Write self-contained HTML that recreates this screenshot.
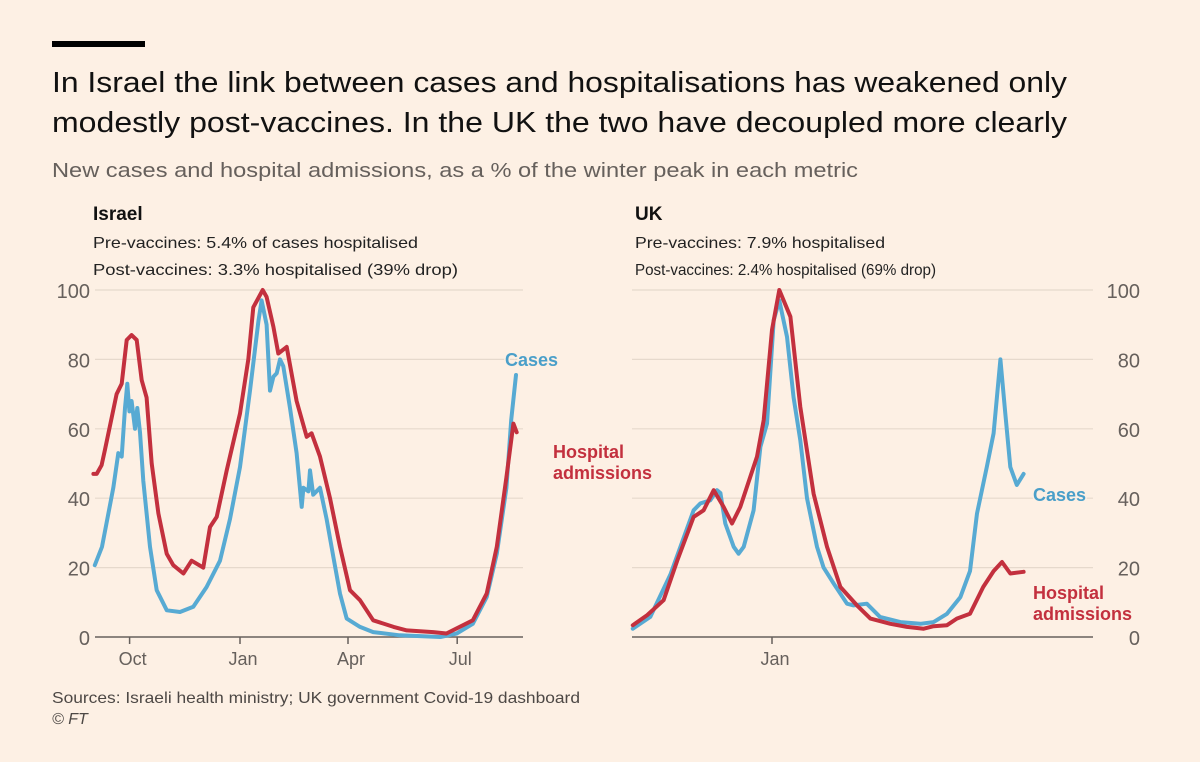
<!DOCTYPE html>
<html><head><meta charset="utf-8"><style>
html,body{margin:0;padding:0;background:#fdf0e4;}
svg{display:block;font-family:"Liberation Sans",sans-serif;}
</style></head><body>
<svg id="chart" width="1200" height="762" viewBox="0 0 1200 762">
<rect x="0" y="0" width="1200" height="762" fill="#fdf0e4"/>
<rect x="52" y="41" width="93" height="6" fill="#000"/>
<text x="52" y="92" font-size="29" fill="#111" textLength="1015" lengthAdjust="spacingAndGlyphs">In Israel the link between cases and hospitalisations has weakened only</text>
<text x="52" y="132" font-size="29" fill="#111" textLength="1015" lengthAdjust="spacingAndGlyphs">modestly post-vaccines. In the UK the two have decoupled more clearly</text>
<text x="52" y="177" font-size="20" fill="#66605c" textLength="806" lengthAdjust="spacingAndGlyphs">New cases and hospital admissions, as a % of the winter peak in each metric</text>
<text x="93" y="220" font-size="19" font-weight="bold" fill="#111">Israel</text>
<text x="93" y="248" font-size="16" fill="#222" textLength="325" lengthAdjust="spacingAndGlyphs">Pre-vaccines: 5.4% of cases hospitalised</text>
<text x="93" y="275" font-size="16" fill="#222" textLength="365" lengthAdjust="spacingAndGlyphs">Post-vaccines: 3.3% hospitalised (39% drop)</text>
<text x="635" y="220" font-size="19" font-weight="bold" fill="#111">UK</text>
<text x="635" y="248" font-size="16" fill="#222" textLength="250" lengthAdjust="spacingAndGlyphs">Pre-vaccines: 7.9% hospitalised</text>
<text x="635" y="275" font-size="16" fill="#222" textLength="301" lengthAdjust="spacingAndGlyphs">Post-vaccines: 2.4% hospitalised (69% drop)</text>
<g id="left"></g>
<g id="right"></g>
<text x="52" y="703" font-size="16" fill="#4d4845" textLength="528" lengthAdjust="spacingAndGlyphs">Sources: Israeli health ministry; UK government Covid-19 dashboard</text>
<text x="52" y="724" font-size="16" fill="#4d4845" font-style="italic">© FT</text>
</svg>
<script>
// Day offsets relative to 1 Jan; values as % of winter peak
const ilCaseDays=[-121,-115,-105.6,-101.4,-98.6,-95.8,-93.9,-92.2,-90.3,-87.5,-85.6,-83.3,-80.6,-75,-69.4,-61,-50,-38.9,-27.8,-16.7,-8.3,0,8.3,15.3,18,22.2,25,27.8,30.6,33.3,36.1,41.7,47.2,51.4,52.8,57,58.3,61,66.7,72.2,77.8,83.3,88.9,100,111,133,167,180.6,194,205.6,214,222,226,230];
const ilCaseVals=[20.7,26,43,53,52,66,73,65,68,60,66,59,45,26,13.5,7.7,7.2,8.7,14.4,22,34,49,71,91,97,90,71,75,76,80,78,66,53,37.5,43,42,48,41,43,34,23,12.5,5.3,2.9,1.4,0.5,0,1,3.8,11.5,24,43,62.5,75.5];
const ilHospDays=[-122.2,-119.4,-115.3,-112.5,-102.8,-98.6,-94.4,-90.3,-86.1,-81.9,-77.8,-73.6,-68,-61.1,-55.6,-47.2,-40.3,-30.6,-25,-19.4,-11.1,0,6.9,11.1,18.9,22.2,27.8,31.9,38.9,47.2,55.6,59.7,66.7,75,83.3,91.7,100,111,128,139,161,172,183,194,205.6,214,222,227.8,230.6];
const ilHospVals=[47,47,49.5,54,70,73,85.6,87,85.6,74,69,50,35.6,24,20.7,18.3,22,20,31.7,34.6,48,64.4,80,95,100,98,89.4,81.7,83.6,68,57.7,58.7,52,40,26,13.5,10.6,4.8,2.9,1.9,1.4,1,2.9,4.8,12.5,26,46,61.5,59];
const ukCaseDays=[-116,-101.4,-84.7,-65.3,-59.7,-51.4,-45.8,-43,-38.9,-31.9,-27.8,-23.6,-15.3,-9.7,-4.2,1.4,6.1,12.5,18,23.6,29.2,37.5,43,51.4,62.5,68,79,90,107,123.6,134.7,145.8,157,165,170.8,179,184.7,190.3,194.4,198.6,204,209.7];
const ukCaseVals=[2.4,5.8,18,36.5,38.5,39.4,42.3,41.5,32.7,26,24,26,36.5,54.8,61.5,91.3,97,86.5,69,56.7,40,26,20,15.4,9.6,9.1,9.6,5.8,4.3,3.8,4.3,6.7,11.5,19,35.6,49,58.7,80,64.4,49,43.8,47];
const ukHospDays=[-116,-104,-90.3,-79,-65.3,-57,-48.6,-40.3,-33.3,-26.4,-12.5,-6.9,0,6.1,15.3,23.6,34.7,45.8,57,70.8,82,98.6,112.5,126.4,134.7,145.8,154,165,176,184.7,191.7,198.6,209.7];
const ukHospVals=[3.4,6.3,10.6,22,34.6,36.5,42.3,37.5,32.7,37.5,52,62.5,88.5,100,92.3,66.3,41.3,26,14.4,9.1,5.3,3.8,2.9,2.4,3.1,3.4,5.3,6.7,14.4,19,21.6,18.3,18.8];
const yTicks=[0,20,40,60,80,100];
const ilMonthLabels=["Oct","Jan","Apr","Jul"];
const ilMonthDays=[-92,0,90,181];
const ukMonthLabels=["Jan"];
const ukMonthDays=[0];

const NS="http://www.w3.org/2000/svg";
const BLUE="#57aad3", RED="#c3303e";
function mk(parent,tag,attrs){const e=document.createElementNS(NS,tag);for(const k in attrs)e.setAttribute(k,attrs[k]);parent.appendChild(e);return e;}
const yS=v=>637-v*3.47;

function panel(g,x0,gridL,gridR,tickX,anchor,mLabels,mDays,series,labels){
  const xS=d=>x0+d*1.2;
  yTicks.forEach((t,i)=>{
    if(t>0){const l=mk(g,'line',{x1:gridL,x2:gridR,y1:yS(t),y2:yS(t),stroke:'#e6d9cc','stroke-width':1.2});
    
    }
    const tx=mk(g,'text',{x:tickX,y:yS(t)+8,'font-size':20,fill:'#66605c','text-anchor':anchor});
    tx.textContent=t;
    
    
  });
  const base=mk(g,'line',{x1:gridL,x2:gridR,y1:yS(0),y2:yS(0),stroke:'#66605c','stroke-width':1.5});
  
  
  mLabels.forEach((m,i)=>{
    const x=xS(mDays[i]);
    const tk=mk(g,'line',{x1:x,x2:x,y1:yS(0),y2:yS(0)+7,stroke:'#66605c','stroke-width':1.5});
    
    
    const t=mk(g,'text',{x:x+3,y:665,'font-size':18,fill:'#66605c','text-anchor':'middle'});
    t.textContent=m;
    
    
  });
  series.forEach(s=>{
    const d=s.days.map((dd,i)=>(i?'L':'M')+xS(dd).toFixed(1)+','+yS(s.vals[i]).toFixed(1)).join('');
    const p=mk(g,'path',{d:d,fill:'none',stroke:s.color,'stroke-width':4,'stroke-linejoin':'round','stroke-linecap':'round'});
    
    
  });
  labels.forEach(L=>{
    L.lines.forEach((ln,i)=>{
      const t=mk(g,'text',{x:L.x,y:L.y+i*21,'font-size':18,'font-weight':'bold',fill:L.color,stroke:'#fdf0e4','stroke-width':3,'paint-order':'stroke'});
      t.textContent=ln;
      
      
    });
  });
}
panel(document.getElementById('left'),240,95,523,90,'end',ilMonthLabels,ilMonthDays,
 [{days:ilCaseDays,vals:ilCaseVals,color:BLUE,name:'israel-cases-line'},{days:ilHospDays,vals:ilHospVals,color:RED,name:'israel-hospital-line'}],
 [{x:505,y:366,lines:['Cases'],color:'#4a9fc9',name:'israel-cases-label'},{x:553,y:458,lines:['Hospital','admissions'],color:RED,name:'israel-hospital-label'}]);
panel(document.getElementById('right'),772,632,1093,1140,'end',ukMonthLabels,ukMonthDays,
 [{days:ukCaseDays,vals:ukCaseVals,color:BLUE,name:'uk-cases-line'},{days:ukHospDays,vals:ukHospVals,color:RED,name:'uk-hospital-line'}],
 [{x:1033,y:501,lines:['Cases'],color:'#4a9fc9',name:'uk-cases-label'},{x:1033,y:599,lines:['Hospital','admissions'],color:RED,name:'uk-hospital-label'}]);
</script>
</body></html>
